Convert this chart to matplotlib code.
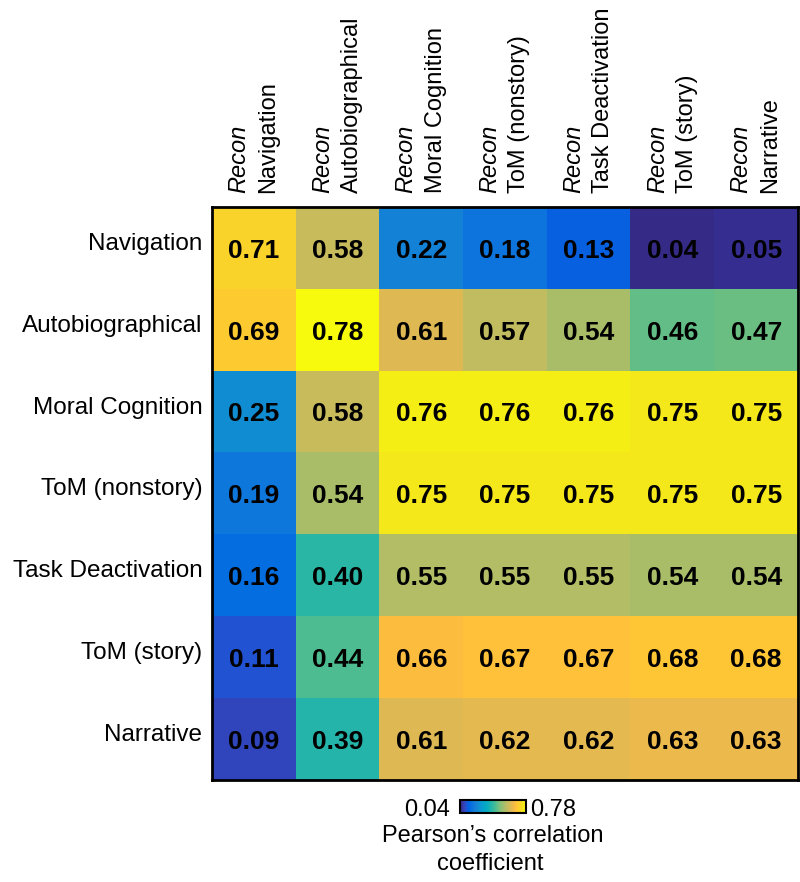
import numpy as np
import matplotlib
matplotlib.use('Agg')
import matplotlib.pyplot as plt
from matplotlib.colors import LinearSegmentedColormap

plt.rcParams['font.family'] = ['Liberation Sans', 'DejaVu Sans']

# данные
rows = ['Navigation', 'Autobiographical', 'Moral Cognition', 'ToM (nonstory)',
        'Task Deactivation', 'ToM (story)', 'Narrative']
cols = ['Navigation', 'Autobiographical', 'Moral Cognition', 'ToM (nonstory)',
        'Task Deactivation', 'ToM (story)', 'Narrative']

navigation = [0.71, 0.58, 0.22, 0.18, 0.13, 0.04, 0.05]
autobiographical = [0.69, 0.78, 0.61, 0.57, 0.54, 0.46, 0.47]
moral = [0.25, 0.58, 0.76, 0.76, 0.76, 0.75, 0.75]
tom_nonstory = [0.19, 0.54, 0.75, 0.75, 0.75, 0.75, 0.75]
task_deact = [0.16, 0.40, 0.55, 0.55, 0.55, 0.54, 0.54]
tom_story = [0.11, 0.44, 0.66, 0.67, 0.67, 0.68, 0.68]
narrative = [0.09, 0.39, 0.61, 0.62, 0.62, 0.63, 0.63]

vmin, vmax = 0.04, 0.78

data = np.array([navigation, autobiographical, moral, tom_nonstory,
                 task_deact, tom_story, narrative])

# parula из MATLAB (64 цвета)
parula_pts = [
    [0.2081, 0.1663, 0.5292], [0.2116, 0.1898, 0.5777], [0.2123, 0.2138, 0.6270],
    [0.2081, 0.2386, 0.6771], [0.1959, 0.2645, 0.7279], [0.1707, 0.2919, 0.7792],
    [0.1253, 0.3242, 0.8303], [0.0591, 0.3598, 0.8683], [0.0117, 0.3875, 0.8820],
    [0.0060, 0.4086, 0.8828], [0.0165, 0.4266, 0.8786], [0.0329, 0.4430, 0.8720],
    [0.0498, 0.4586, 0.8641], [0.0629, 0.4737, 0.8554], [0.0723, 0.4887, 0.8467],
    [0.0779, 0.5040, 0.8384], [0.0793, 0.5200, 0.8312], [0.0749, 0.5375, 0.8263],
    [0.0641, 0.5570, 0.8240], [0.0488, 0.5772, 0.8228], [0.0343, 0.5966, 0.8199],
    [0.0265, 0.6137, 0.8135], [0.0239, 0.6287, 0.8038], [0.0231, 0.6418, 0.7913],
    [0.0228, 0.6535, 0.7768], [0.0267, 0.6642, 0.7607], [0.0384, 0.6743, 0.7436],
    [0.0590, 0.6838, 0.7254], [0.0843, 0.6928, 0.7062], [0.1133, 0.7015, 0.6859],
    [0.1453, 0.7098, 0.6646], [0.1801, 0.7177, 0.6424], [0.2178, 0.7250, 0.6193],
    [0.2586, 0.7317, 0.5954], [0.3022, 0.7376, 0.5712], [0.3482, 0.7424, 0.5473],
    [0.3953, 0.7459, 0.5244], [0.4420, 0.7481, 0.5033], [0.4871, 0.7491, 0.4840],
    [0.5300, 0.7491, 0.4661], [0.5709, 0.7485, 0.4494], [0.6099, 0.7473, 0.4337],
    [0.6473, 0.7456, 0.4188], [0.6834, 0.7435, 0.4044], [0.7184, 0.7411, 0.3905],
    [0.7525, 0.7384, 0.3768], [0.7858, 0.7356, 0.3633], [0.8185, 0.7327, 0.3498],
    [0.8507, 0.7299, 0.3360], [0.8824, 0.7274, 0.3217], [0.9139, 0.7258, 0.3063],
    [0.9450, 0.7261, 0.2886], [0.9739, 0.7314, 0.2666], [0.9938, 0.7455, 0.2403],
    [0.9990, 0.7653, 0.2164], [0.9955, 0.7861, 0.1967], [0.9880, 0.8066, 0.1794],
    [0.9789, 0.8271, 0.1633], [0.9697, 0.8481, 0.1475], [0.9626, 0.8705, 0.1309],
    [0.9589, 0.8949, 0.1132], [0.9598, 0.9218, 0.0948], [0.9661, 0.9514, 0.0755],
    [0.9763, 0.9831, 0.0538],
]
parula = LinearSegmentedColormap.from_list('parula', parula_pts)

fig = plt.figure(figsize=(8, 8.82), dpi=100)
ax = fig.add_axes([0.265, 0.116, 0.7325, 0.649])

im = ax.imshow(data, cmap=parula, vmin=vmin, vmax=vmax, aspect='auto')

for i in range(data.shape[0]):
    for j in range(data.shape[1]):
        ax.annotate('%.2f' % data[i, j], xy=(j, i), xytext=(0, -2),
                    textcoords='offset points', ha='center', va='center',
                    fontsize=19, fontweight='bold', color='black')

# подписи строк
for i, name in enumerate(rows):
    ax.annotate(name, xy=(-0.5, i), xytext=(-7, 3), textcoords='offset points',
                ha='right', va='center', fontsize=17.5, annotation_clip=False)

ax.set_xticks([])
ax.set_yticks([])

# подписи столбцов
for j, name in enumerate(cols):
    ax.text(j - 0.18, -0.67, 'Recon', rotation=90, ha='center', va='bottom',
            fontsize=17, style='italic')
    ax.text(j + 0.17, -0.67, name, rotation=90, ha='center', va='bottom',
            fontsize=17)

for s in ax.spines.values():
    s.set_linewidth(2)

# колорбар
cax = fig.add_axes([0.575, 0.0782, 0.0825, 0.0147])
cb = fig.colorbar(im, cax=cax, orientation='horizontal')
cb.set_ticks([])
cb.outline.set_linewidth(1.5)
fig.text(0.5625, 0.0816, '%.2f' % vmin, ha='right', va='center', fontsize=17)
fig.text(0.6625, 0.0816, '%.2f' % vmax, ha='left', va='center', fontsize=17)
fig.text(0.616, 0.052, 'Pearson\u2019s correlation', ha='center', va='center', fontsize=17)
fig.text(0.613, 0.020, 'coefficient', ha='center', va='center', fontsize=17)

plt.savefig('out.png', dpi=100)
